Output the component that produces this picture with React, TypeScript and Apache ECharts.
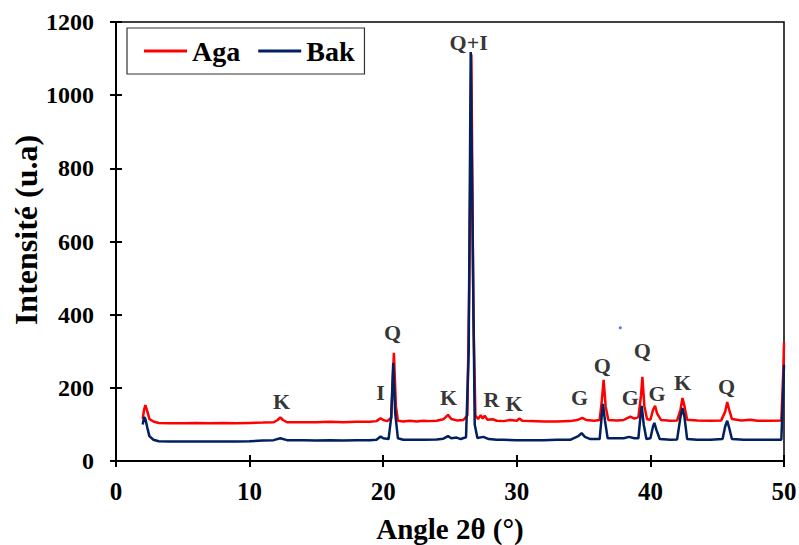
import React, { useEffect, useRef } from "react";
import * as echarts from "echarts";

const agaData: [number, number][] = [
  [2.0,115],[2.1,140],[2.2,153],[2.35,135],[2.5,115],[2.8,108],[3.2,104],[4,103],[5,103],[6,104],[7,103],[8,104],[9,103],[10,104],[11,105],[11.8,106],[12.1,112],[12.3,119],[12.5,112],[12.8,106],[14,106],[15,106],[16,107],[17,106],[18,107],[19,107],[19.5,109],[19.8,117],[20.0,112],[20.3,109],[20.6,118],[20.8,296],[20.95,150],[21.1,110],[21.5,108],[22,110],[22.5,108],[23,110],[23.5,109],[24,110],[24.5,114],[24.85,126],[25.1,115],[25.5,111],[26,112],[26.3,125],[26.45,500],[26.6,1112],[26.75,400],[26.9,125],[27.1,115],[27.3,125],[27.45,116],[27.6,124],[27.8,113],[28.2,114],[28.5,110],[29,109],[29.5,112],[30,110],[30.2,116],[30.4,110],[31,109],[32,108],[33,108],[34,109],[34.6,113],[34.9,118],[35.2,112],[35.8,110],[36.2,112],[36.35,160],[36.5,222],[36.65,150],[36.85,112],[37.5,111],[38.0,112],[38.3,118],[38.5,121],[38.8,116],[39.1,120],[39.3,180],[39.4,230],[39.55,150],[39.75,114],[40.0,113],[40.2,140],[40.35,151],[40.5,130],[40.8,112],[41.5,110],[42.0,111],[42.25,140],[42.4,172],[42.55,150],[42.75,113],[43.5,111],[44.5,110],[45.3,111],[45.6,135],[45.75,161],[45.9,140],[46.1,115],[46.8,111],[47.5,113],[48,110],[49,110],[49.8,111],[49.95,250],[50,323]
];

const bakData: [number, number][] = [
  [2.0,100],[2.1,120],[2.2,115],[2.35,90],[2.5,68],[2.8,58],[3.2,54],[4,53],[5,53],[6,53],[7,53],[8,53],[9,53],[10,54],[11,56],[11.8,57],[12.3,62],[12.8,57],[14,57],[15,56],[16,57],[17,56],[18,57],[19,57],[19.5,58],[19.8,67],[20.0,62],[20.4,60],[20.6,120],[20.75,268],[20.9,130],[21.1,62],[21.5,58],[22,58],[23,58],[24,59],[24.5,61],[24.85,68],[25.1,62],[25.5,64],[25.8,60],[26.2,65],[26.4,300],[26.55,1118],[26.7,600],[26.85,100],[27.05,63],[27.5,66],[27.9,60],[28.5,58],[29,58],[30,57],[31,57],[32,57],[33,58],[34,58],[34.6,68],[34.85,76],[35.1,66],[35.5,60],[36.2,60],[36.35,120],[36.45,156],[36.6,110],[36.8,62],[37.5,62],[38.0,62],[38.4,66],[38.8,62],[39.1,62],[39.25,120],[39.35,151],[39.5,100],[39.7,60],[40.0,62],[40.2,95],[40.3,104],[40.45,85],[40.7,60],[41.5,58],[42.0,59],[42.25,120],[42.4,145],[42.55,120],[42.75,60],[43.5,58],[44.5,58],[45.4,60],[45.6,95],[45.75,110],[45.9,90],[46.1,60],[47,58],[48,58],[49,58],[49.8,58],[49.95,200],[50,263]
];

const peakLabels: { name: string; value: [number, number] }[] = [
  { name: "K", value: [12.4, 164] },
  { name: "I", value: [19.8, 186] },
  { name: "Q", value: [20.7, 351] },
  { name: "K", value: [24.9, 173] },
  { name: "Q+I", value: [26.4, 1145] },
  { name: "R", value: [28.1, 167] },
  { name: "K", value: [29.8, 156] },
  { name: "G", value: [34.7, 173] },
  { name: "Q", value: [36.4, 260] },
  { name: "G", value: [38.5, 173] },
  { name: "Q", value: [39.4, 301] },
  { name: "G", value: [40.5, 184] },
  { name: "K", value: [42.4, 214] },
  { name: "Q", value: [45.7, 203] },
];

const strayDot: [number, number][] = [[37.75, 364]];

const xTicks = [0, 10, 20, 30, 40, 50];
const yTicks = [0, 200, 400, 600, 800, 1000, 1200];
const yTitle = "Intensité (u.a)";
const xTitle = "Angle 2θ (°)";

const FONT = "'Liberation Serif', 'Times New Roman', serif";

export default function App() {
  const ref = useRef<HTMLDivElement>(null);
  useEffect(() => {
    if (!ref.current) return;
    const chart = echarts.init(ref.current, null, { renderer: "svg" });
    const axisCommon = {
      axisLine: { show: true, lineStyle: { color: "#000", width: 2 } },
      splitLine: { show: false },
    };
    chart.setOption({
      animation: false,
      backgroundColor: "#fff",
      grid: {
        left: 116, right: 15, top: 22, bottom: 84,
        outerBoundsMode: "none",
        containLabel: false,
        show: true, borderColor: "#000", borderWidth: 1.5,
      },
      legend: {
        data: ["Aga", "Bak"],
        left: 127, top: 28,
        orient: "horizontal",
        borderColor: "#333", borderWidth: 1.2,
        padding: [9, 10, 9, 17],
        itemGap: 18,
        icon: "rect",
        itemWidth: 43, itemHeight: 3,
        textStyle: { fontFamily: FONT, fontWeight: "bold", fontSize: 28, color: "#000", padding: [0, 0, 0, 0] },
      },
      graphic: [
        {
          type: "text", x: 26, y: 230, rotation: Math.PI / 2,
          style: {
            text: yTitle, fontFamily: FONT, fontWeight: "bold", fontSize: 32, fill: "#000",
            align: "center", verticalAlign: "middle",
          },
        },
      ],
      xAxis: [
        {
          ...axisCommon,
          type: "value", min: 0, max: 50, interval: 10,
          name: xTitle, nameLocation: "middle", nameGap: 53,
          nameTextStyle: { fontFamily: FONT, fontWeight: "bold", fontSize: 29, color: "#000" },
          axisTick: { show: true, inside: false, length: 6, lineStyle: { color: "#000", width: 2 } },
          axisLabel: { fontFamily: FONT, fontWeight: "bold", fontSize: 25, color: "#000", margin: 18,
            formatter: (v: number) => (xTicks.includes(v) ? String(v) : "") },
        },
        {
          type: "value", min: 0, max: 50, interval: 10, position: "bottom",
          axisLine: { show: false }, splitLine: { show: false },
          axisTick: { show: true, inside: true, length: 6, lineStyle: { color: "#000", width: 2 } },
          axisLabel: { show: false },
        },
      ],
      yAxis: [
        {
          ...axisCommon,
          type: "value", min: 0, max: 1200, interval: 200,
          axisTick: { show: true, inside: false, length: 6, lineStyle: { color: "#000", width: 2 } },
          axisLabel: { fontFamily: FONT, fontWeight: "bold", fontSize: 24, color: "#000", margin: 22,
            formatter: (v: number) => (yTicks.includes(v) ? String(v) : "") },
        },
        {
          type: "value", min: 0, max: 1200, interval: 200, position: "left",
          axisLine: { show: false }, splitLine: { show: false },
          axisTick: { show: true, inside: true, length: 6, lineStyle: { color: "#000", width: 2 } },
          axisLabel: { show: false },
        },
      ],
      series: [
        {
          name: "Aga", type: "line", data: agaData, symbol: "none",
          lineStyle: { color: "#ff0000", width: 2.5 }, itemStyle: { color: "#ff0000" },
          xAxisIndex: 0, yAxisIndex: 0, z: 2,
        },
        {
          name: "Bak", type: "line", data: bakData, symbol: "none",
          lineStyle: { color: "#002060", width: 2.5 }, itemStyle: { color: "#002060" },
          xAxisIndex: 0, yAxisIndex: 0, z: 3,
        },
        {
          name: "labels", type: "scatter", data: peakLabels, symbolSize: 0,
          xAxisIndex: 0, yAxisIndex: 0, z: 5,
          label: {
            show: true, position: "inside", formatter: (p: any) => p.name,
            fontFamily: FONT, fontWeight: "bold", fontSize: 22, color: "#000",
          },
          silent: true,
        },
        {
          name: "dot", type: "scatter", data: strayDot, symbolSize: 3,
          itemStyle: { color: "#3344ff" }, xAxisIndex: 0, yAxisIndex: 0, silent: true,
        },
      ],
    });
    return () => chart.dispose();
  }, []);
  return <div ref={ref} style={{ position: "absolute", left: 0, top: 0, width: 799, height: 545 }} />;
}
